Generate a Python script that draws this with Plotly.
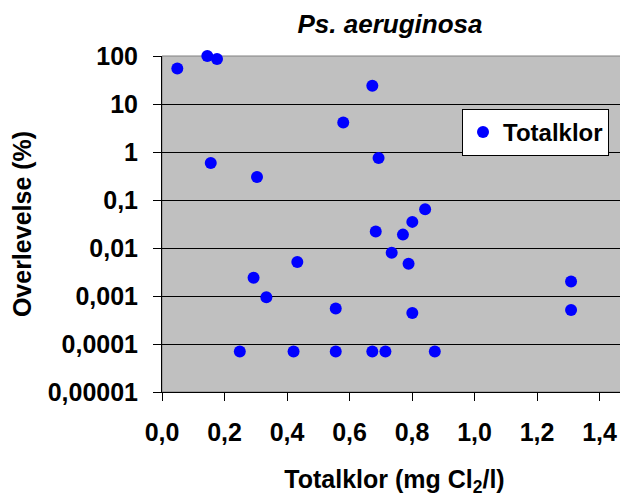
import plotly.graph_objects as go

# Data
totalklor = [0.049, 0.145, 0.176, 0.156, 0.304, 0.673, 0.580, 0.693, 0.842,
             0.801, 0.684, 0.771, 0.735, 0.789, 0.433, 0.293, 0.334, 1.309,
             0.556, 0.801, 1.309, 0.249, 0.421, 0.556, 0.673, 0.715, 0.873]
overlevelse = [55, 100, 87, 0.59, 0.30, 24, 4.1, 0.75, 0.064,
               0.035, 0.022, 0.019, 0.008, 0.0047, 0.0051, 0.0024, 0.00094, 0.0020,
               0.00055, 0.00044, 0.00051, 7e-5, 7e-5, 7e-5, 7e-5, 7e-5, 7e-5]

x_tickvals = [0.0, 0.2, 0.4, 0.6, 0.8, 1.0, 1.2, 1.4]
x_ticktext = ["0,0", "0,2", "0,4", "0,6", "0,8", "1,0", "1,2", "1,4"]
y_tickvals = [1e-5, 1e-4, 1e-3, 1e-2, 1e-1, 1, 10, 100]
y_ticktext = ["0,00001", "0,0001", "0,001", "0,01", "0,1", "1", "10", "100"]

FONT = "Arial, Liberation Sans, sans-serif"
OFF = 8  # page body margin offset
W, H = 628 - OFF, 497 - OFF
ML, MR, MT, MB = 162 - OFF, 1, 56 - OFF, 105

def bf(size=25):
    return dict(family=FONT, size=size, color="black", weight="bold")

fig = go.Figure()
fig.add_trace(go.Scatter(
    x=totalklor, y=overlevelse, mode="markers", name="Totalklor",
    marker=dict(color="#0000FF", size=12, line=dict(width=0)),
    cliponaxis=False,
))

fig.update_layout(
    width=W, height=H,
    margin=dict(l=ML, r=MR, t=MT, b=MB, pad=0),
    paper_bgcolor="white",
    plot_bgcolor="#C0C0C0",
    font=bf(25),
    title=dict(text="<i>Ps. aeruginosa</i>", x=(390 - OFF) / W, xanchor="center",
               y=1 - (24 - OFF) / H, yanchor="middle", yref="container",
               font=bf(26)),
    showlegend=True,
    legend=dict(x=(462 - OFF - ML) / (W - ML - MR), xanchor="left",
                y=(H - MB - (109 - OFF)) / (H - MT - MB), yanchor="top",
                bgcolor="white", bordercolor="black", borderwidth=1,
                font=bf(24)),
    shapes=[dict(type="rect", xref="paper", yref="paper", x0=0, x1=1, y0=0, y1=1,
                 line=dict(color="#808080", width=1), layer="below")],
)

fig.update_xaxes(
    range=[0, (W - ML - MR) / 312.5],
    tickvals=x_tickvals, ticktext=x_ticktext,
    tickfont=bf(25),
    ticks="outside", ticklen=8, tickcolor="black", tickwidth=1,
    ticklabelstandoff=10,
    showline=True, linecolor="black", linewidth=1,
    showgrid=False, zeroline=False, automargin=False,
    title=dict(text="Totalklor (mg Cl<sub>2</sub>/l)", standoff=27,
               font=bf(25)),
)
fig.update_yaxes(
    type="log", range=[-5, 2],
    tickvals=y_tickvals, ticktext=y_ticktext,
    tickfont=bf(25),
    ticks="outside", ticklen=8, tickcolor="black", tickwidth=1,
    ticklabelstandoff=10,
    showline=True, linecolor="black", linewidth=1,
    showgrid=True, gridcolor="black", gridwidth=1,
    zeroline=False, automargin=False,
    title=dict(text="Overlevelse (%)", standoff=16,
               font=bf(25)),
)

fig.write_html("out.html")
